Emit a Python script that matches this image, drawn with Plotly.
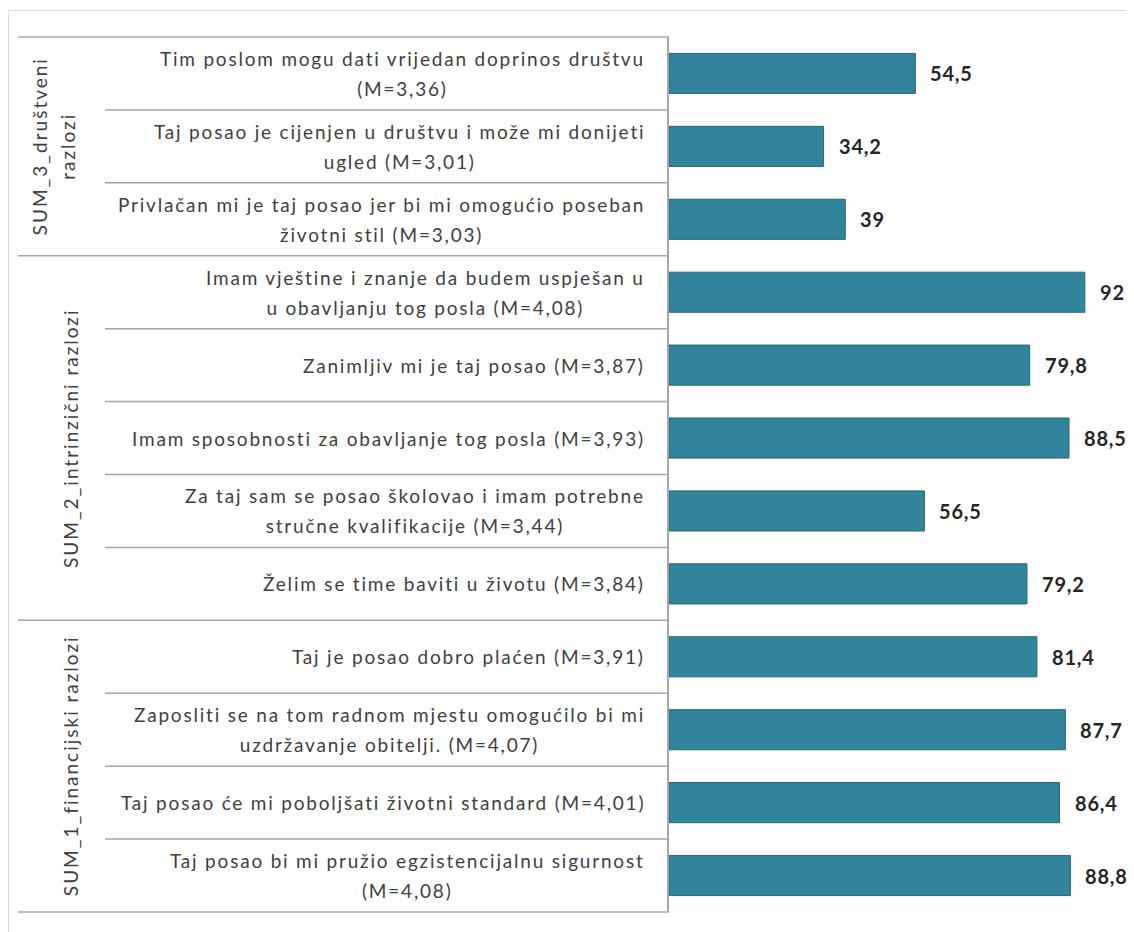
import plotly.graph_objects as go

# ---- data (top to bottom) ----
items = [
    "Tim poslom mogu dati vrijedan doprinos društvu<br>(M=3,36)",
    "Taj posao je cijenjen u društvu i može mi donijeti<br>ugled (M=3,01)",
    "Privlačan mi je taj posao jer bi mi omogućio poseban<br>životni stil (M=3,03)",
    "Imam vještine i znanje da budem uspješan u<br>u obavljanju tog posla (M=4,08)",
    "Zanimljiv mi je taj posao (M=3,87)",
    "Imam sposobnosti za obavljanje tog posla (M=3,93)",
    "Za taj sam se posao školovao i imam potrebne<br>stručne kvalifikacije (M=3,44)",
    "Želim se time baviti u životu (M=3,84)",
    "Taj je posao dobro plaćen (M=3,91)",
    "Zaposliti se na tom radnom mjestu omogućilo bi mi<br>uzdržavanje obitelji. (M=4,07)",
    "Taj posao će mi poboljšati životni standard (M=4,01)",
    "Taj posao bi mi pružio egzistencijalnu sigurnost<br>(M=4,08)",
]
values = [54.5, 34.2, 39, 92, 79.8, 88.5, 56.5, 79.2, 81.4, 87.7, 86.4, 88.8]
groups = ["SUM_3_društveni<br>razlozi", "SUM_2_intrinzični razlozi", "SUM_1_financijski razlozi"]
group_sizes = [3, 5, 4]

# page has an 8px body margin, so the figure is sized to fit the window
W, H = 1126, 924
ML, MR, MT, MB = 661, 13, 29, 20
PW = W - ML - MR
PH = H - MT - MB

BAR = "#31849B"
BAR_LINE = "#25667A"
GRID = "#A6A6A6"
TXT = "#404040"
FONT = "Lato"

ids = list(range(len(items)))
n = len(items)

fig = go.Figure()
fig.add_trace(go.Bar(
    x=values, y=ids, orientation="h",
    marker=dict(color=BAR, line=dict(color=BAR_LINE, width=1)),
    width=0.55, hoverinfo="skip",
))

ann = []
shapes = []


def rel_paper_x(dpx):
    """paper x for a pixel offset relative to the y axis line"""
    return dpx / PW


# category labels
for i, t in enumerate(items):
    ann.append(dict(
        x=0, xref="paper", xshift=-22, y=i, yref="y",
        xanchor="right", yanchor="middle", align="center", showarrow=False,
        text=f'<span style="font-size:19px;letter-spacing:1.8px">{t}</span>',
        font=dict(family=FONT, size=23, color=TXT),
    ))
# value labels
for i, v in enumerate(values):
    ann.append(dict(
        x=v, xref="x", y=i, yref="y", xanchor="left", yanchor="middle",
        xshift=13, showarrow=False,
        text='<span style="letter-spacing:0.8px"><b>' + (f"{v:g}".replace(".", ",")) + "</b></span>",
        font=dict(family=FONT, size=20, color="#262626"),
    ))

# group labels & separators
start = 0
shapes.append(dict(type="line", xref="paper", yref="y domain",
                   x0=rel_paper_x(18 - 669), x1=0, y0=1, y1=1,
                   line=dict(color=GRID, width=1.5)))
for g, size in zip(groups, group_sizes):
    center = start + (size - 1) / 2
    ann.append(dict(
        x=0, xref="paper", xshift=(54 if "<br>" in g else 70) - 669, y=center, yref="y",
        xanchor="center", yanchor="middle", align="center", showarrow=False,
        textangle=-90,
        text=f'<span style="font-size:19px;letter-spacing:2px">{g}</span>',
        font=dict(family=FONT, size=22, color=TXT),
    ))
    for k in range(start + 1, start + size):
        yy = 1 - k / n
        shapes.append(dict(type="line", xref="paper", yref="y domain",
                           x0=rel_paper_x(105 - 669), x1=0, y0=yy, y1=yy,
                           line=dict(color=GRID, width=1.5)))
    start += size
    yy = 1 - start / n
    shapes.append(dict(type="line", xref="paper", yref="y domain",
                       x0=rel_paper_x(18 - 669), x1=0, y0=yy, y1=yy,
                       line=dict(color=GRID, width=1.5)))

# outer chart border
shapes.append(dict(type="rect", xref="paper", yref="paper",
                   x0=-(ML - 0.5) / PW, x1=1.2, y0=-0.2, y1=1 + (MT - 2.5) / PH,
                   line=dict(color="#D9D9D9", width=1), layer="below"))

fig.update_layout(
    width=W, height=H,
    margin=dict(l=ML, r=MR, t=MT, b=MB),
    paper_bgcolor="white", plot_bgcolor="white",
    showlegend=False,
    xaxis=dict(range=[0, 100], visible=False, fixedrange=True),
    yaxis=dict(range=[n - 0.5, -0.5], showticklabels=False, ticks="",
               showgrid=False, zeroline=False, showline=True,
               linecolor=GRID, linewidth=1.5, fixedrange=True),
    annotations=ann, shapes=shapes,
)

fig.write_html("out.html")
